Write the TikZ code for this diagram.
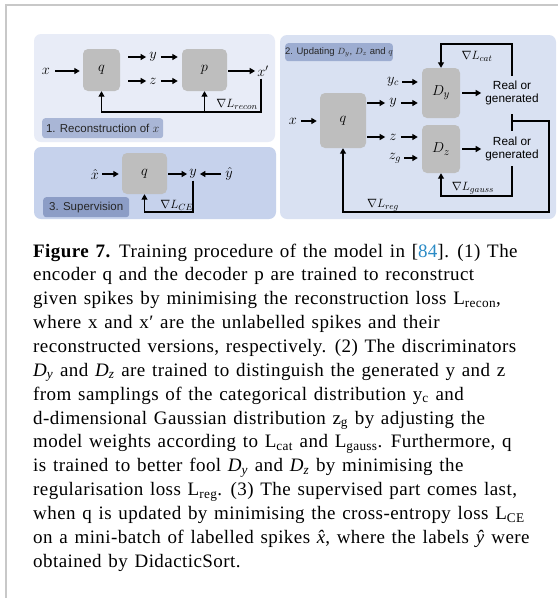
\documentclass[tikz,border=0pt]{standalone}
\usepackage{fontspec}
\setmainfont{Liberation Serif}
\setsansfont{Liberation Sans}
\newfontfamily\capfont{Liberation Serif}[LetterSpace=2.3,WordSpace=1.3]
\usetikzlibrary{arrows.meta,calc}
\definecolor{panelA}{HTML}{E8ECF7}
\definecolor{panelB}{HTML}{D9E1F2}
\definecolor{panelC}{HTML}{C6D2EC}
\definecolor{labA}{HTML}{A9B6D6}
\definecolor{labB}{HTML}{9DADD1}
\definecolor{labC}{HTML}{8C9DC6}
\definecolor{boxgray}{HTML}{BEBEBE}
\definecolor{citeblue}{HTML}{2B8BC6}
\definecolor{framegray}{HTML}{C8C8C8}
\tikzset{
 gbox/.style={fill=boxgray, rounded corners=5pt, inner sep=0pt, font=\fontsize{15.5}{17}\selectfont},
 lab/.style={rounded corners=3pt, inner sep=0pt, font=\fontsize{11.5}{13}\selectfont\sffamily, text=black!85},
 mlab/.style={font=\fontsize{14.5}{16}\selectfont, inner sep=1pt},
 arr/.style={line width=1.5pt, -{Triangle[length=5.5pt,width=6pt]}},
 fb/.style={line width=1.1pt},
 fbarr/.style={line width=1.1pt, -{Triangle[length=5.5pt,width=6pt]}},
 glab/.style={font=\fontsize{12.5}{14}\selectfont, inner sep=0pt},
 rg/.style={font=\fontsize{11.8}{13.5}\selectfont\sffamily, align=center, inner sep=0pt}
}
\begin{document}
\begin{tikzpicture}[x=1pt,y=-1pt]
\useasboundingbox (0,0) rectangle (558,598);
\fill[white] (0,0) rectangle (558,598);
% outer frame
\draw[framegray, line width=1.5pt] (6,598) -- (6,5) -- (558,5);
% panels
\fill[panelA, rounded corners=7pt] (34,34) rectangle (275,142);
\fill[panelC, rounded corners=7pt] (34,147) rectangle (276,219);
\fill[panelB, rounded corners=7pt] (280,35) rectangle (556,219);

% ---------- panel 1
\node[lab, fill=labA, minimum width=121, minimum height=20, anchor=north west] (l1) at (42,118) {1. Reconstruction of $x$};
\node[mlab] (x1) at (46,71) {$x$};
\node[gbox, minimum width=37, minimum height=42] (q1) at (101.5,70) {$q$};
\node[mlab] (y1) at (153,57) {$y$};
\node[mlab] (z1) at (153,81) {$z$};
\node[gbox, minimum width=45, minimum height=42] (p1) at (204.5,70) {$p$};
\node[mlab] (xp1) at (263,71) {$x'$};
\draw[arr] ($(x1.east)+(4,0)$) -- ($(q1.west |- x1)+(-3,0)$);
\draw[arr] ($(q1.east |- y1)+(8,0)$) -- ($(y1.west)+(-2,0)$);
\draw[arr] ($(q1.east |- z1)+(8,0)$) -- ($(z1.west)+(-2,0)$);
\draw[arr] ($(y1.east)+(3,0)$) -- ($(p1.west |- y1)+(-4,0)$);
\draw[arr] ($(z1.east)+(3,0)$) -- ($(p1.west |- z1)+(-4,0)$);
\draw[arr] ($(p1.east |- xp1)+(1,0)$) -- ($(xp1.west)+(-1,0)$);
\coordinate (b1) at (261,112);
\draw[fbarr] ($(xp1.south)+(-2,1)$) |- (q1.south |- b1) -- (q1.south);
\draw[fbarr] (p1.south |- b1) -- (p1.south);
\node[glab] (g1) at (237,104) {$\nabla L_{recon}$};

% ---------- panel 3
\node[lab, fill=labC, minimum width=86, minimum height=20, anchor=north west] (l3) at (43,197) {3. Supervision};
\node[gbox, minimum width=45, minimum height=41] (q3) at (144.5,173.5) {$q$};
\node[mlab] (xh3) at (95,174) {$\hat{x}$};
\node[mlab] (y3) at (193,174) {$y$};
\node[mlab] (yh3) at (229,174) {$\hat{y}$};
\draw[arr] ($(xh3.east)+(2,0)$) -- ($(q3.west |- xh3)+(-3,0)$);
\draw[arr] ($(q3.east |- y3)+(1,0)$) -- ($(y3.west)+(-1,0)$);
\draw[arr] ($(yh3.west)+(-3,0)$) -- ($(y3.east)+(2,0)$);
\coordinate (b3) at (193,212);
\draw[fbarr] ($(y3.south)+(0,1)$) |- (q3.south |- b3) -- (q3.south);
\node[glab] (g3) at (177,205) {$\nabla L_{CE}$};

% ---------- panel 2
\node[lab, fill=labB, minimum width=90, minimum height=18, anchor=north west, font=\fontsize{9.5}{11}\selectfont\sffamily] (l2) at (285,43) {2. Updating $D_y$, $D_z$ and $q$};
\node[mlab] (x2) at (293,121) {$x$};
\node[gbox, minimum width=46, minimum height=55] (q2) at (343,120.5) {$q$};
\node[mlab] (y2) at (393,103) {$y$};
\node[mlab] (z2) at (393,137) {$z$};
\node[mlab] (yc2) at (393,82) {$y_c$};
\node[mlab] (zg2) at (395,158) {$z_g$};
\node[gbox, minimum width=38, minimum height=50] (dy) at (441,93) {$D_y$};
\node[gbox, minimum width=38, minimum height=48] (dz) at (441,149) {$D_z$};
\node[rg] (rg1) at (512,93) {Real or\\generated};
\node[rg] (rg2) at (512,149) {Real or\\generated};
\draw[arr] ($(x2.east)+(3,0)$) -- ($(q2.west |- x2)+(-3,0)$);
\draw[arr] ($(q2.east |- y2)+(1,0)$) -- ($(y2.west)+(-3,0)$);
\draw[arr] ($(q2.east |- z2)+(1,0)$) -- ($(z2.west)+(-3,0)$);
\draw[arr] ($(yc2.east)+(2,0)$) -- ($(dy.west |- yc2)+(-4,0)$);
\draw[arr] ($(y2.east)+(3,0)$) -- ($(dy.west |- y2)+(-4,0)$);
\draw[arr] ($(z2.east)+(3,0)$) -- ($(dz.west |- z2)+(-4,0)$);
\draw[arr] ($(zg2.east)+(2,0)$) -- ($(dz.west |- zg2)+(-4,0)$);
\draw[arr] ($(dy.east)+(2,0)$) -- ($(rg1.west |- dy)+(-4,0)$);
\draw[arr] ($(dz.east)+(2,0)$) -- ($(rg2.west |- dz)+(-4,0)$);
\coordinate (tc) at (512,44);
\draw[fbarr] ($(rg1.north)+(0,-5)$) -- (rg1.north |- tc) -| (dy.north);
\node[glab] (gcat) at (477,56) {$\nabla L_{cat}$};
\coordinate (bc) at (512,196);
\draw[fbarr] ($(rg2.south)+(0,5)$) -- (rg2.south |- bc) -| (dz.south);
\node[glab] (ggauss) at (473,188) {$\nabla L_{gauss}$};
\draw[fb] ($(rg1.south)+(0,9)$) -- ($(rg2.north)+(0,-6)$);
\coordinate (mid) at ($(rg1.south)!0.5!(rg2.north)$);
\coordinate (rb) at (549,212);
\draw[fbarr] (mid) -| (rb) -| (q2.south);
\node[glab] (greg) at (383,205) {$\nabla L_{reg}$};

% ---------- caption
\node[anchor=north west, align=left, inner sep=0pt, font=\capfont\fontsize{19}{23.85}\selectfont] (cap) at (33,243.5) {%
\textbf{Figure 7.} Training procedure of the model in [\textcolor{citeblue}{84}]. (1) The\\
encoder q and the decoder p are trained to reconstruct\\
given spikes by minimising the reconstruction loss L\textsubscript{recon},\\
where x and x′ are the unlabelled spikes and their\\
reconstructed versions, respectively. (2) The discriminators\\
\textit{D\textsubscript{y}} and \textit{D\textsubscript{z}} are trained to distinguish the generated y and z\\
from samplings of the categorical distribution y\textsubscript{c} and\\
d-dimensional Gaussian distribution z\textsubscript{g} by adjusting the\\
model weights according to L\textsubscript{cat} and L\textsubscript{gauss}. Furthermore, q\\
is trained to better fool \textit{D\textsubscript{y}} and \textit{D\textsubscript{z}} by minimising the\\
regularisation loss L\textsubscript{reg}. (3) The supervised part comes last,\\
when q is updated by minimising the cross-entropy loss L\textsubscript{CE}\\
on a mini-batch of labelled spikes \textit{\^x}, where the labels \textit{\^y} were\\
obtained by DidacticSort.};
\end{tikzpicture}
\end{document}
